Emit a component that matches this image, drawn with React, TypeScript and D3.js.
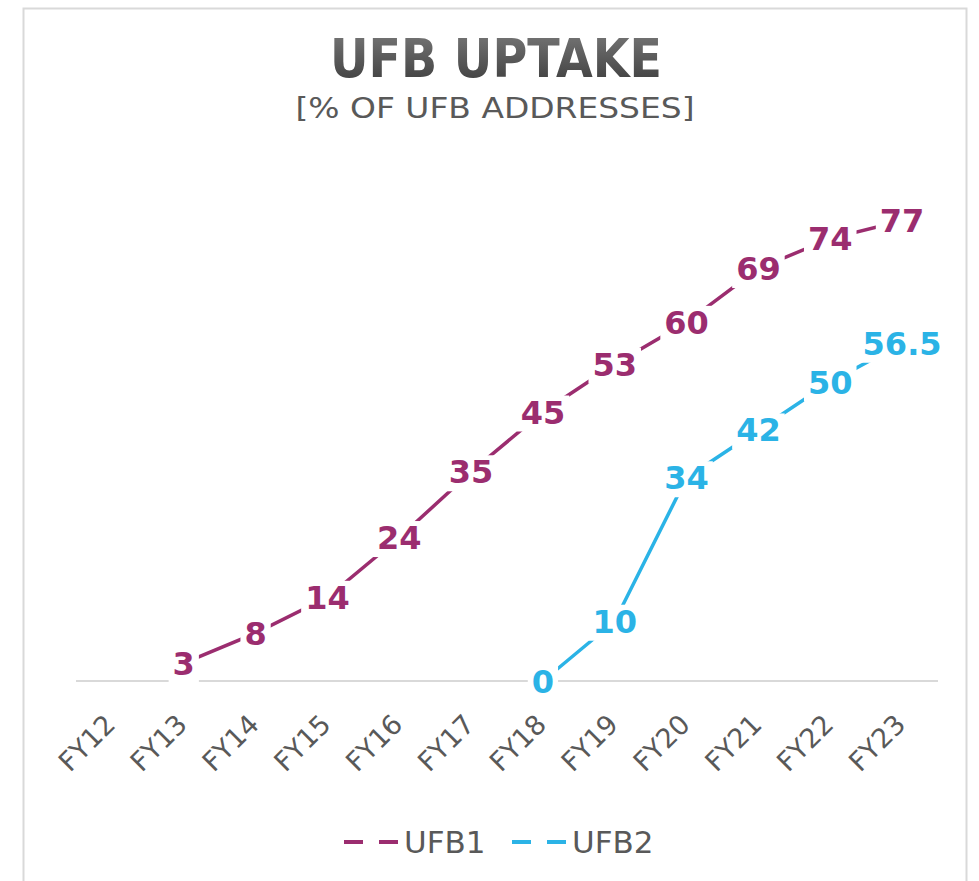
import React, { useEffect, useRef } from 'react';
import * as d3 from 'd3';

const categories = ['FY12', 'FY13', 'FY14', 'FY15', 'FY16', 'FY17', 'FY18', 'FY19', 'FY20', 'FY21', 'FY22', 'FY23'];
// null = no value for that year
const ufb1 = [null, 3, 8, 14, 24, 35, 45, 53, 60, 69, 74, 77];
const ufb2 = [null, null, null, null, null, null, 0, 10, 34, 42, 50, 56.5];
const seriesNames = ['UFB1', 'UFB2'];
const seriesColors = ['#9b2d6f', '#2bb3e6'];

const W = 979;
const H = 881;

export default function App() {
  const ref = useRef<SVGSVGElement>(null);

  useEffect(() => {
    const svg = d3.select(ref.current);
    svg.selectAll('*').remove();

    const x = d3.scaleBand().domain(categories).range([76, 938]);
    const y = d3.scaleLinear().domain([0, 90]).range([681, 143]);
    const cx = (c: string) => x(c)! + x.bandwidth() / 2;

    // frame
    svg.append('path')
      .attr('d', `M23.5,${H} V8.5 H966.5 V${H}`)
      .attr('fill', 'none')
      .attr('stroke', '#d9d9d9')
      .attr('stroke-width', 2);

    const defs = svg.append('defs');
    const grad = defs.append('linearGradient')
      .attr('id', 'titleGrad')
      .attr('x1', 0).attr('y1', 0).attr('x2', 0).attr('y2', 1);
    grad.append('stop').attr('offset', '0%').attr('stop-color', '#7a7a7a');
    grad.append('stop').attr('offset', '100%').attr('stop-color', '#3a3a3a');

    svg.append('text')
      .attr('x', 496).attr('y', 77)
      .attr('text-anchor', 'middle')
      .attr('font-family', 'DejaVu Sans')
      .attr('font-weight', 'bold')
      .attr('font-size', 53)
      .attr('textLength', 332)
      .attr('lengthAdjust', 'spacingAndGlyphs')
      .attr('fill', 'url(#titleGrad)')
      .text('UFB UPTAKE');

    svg.append('text')
      .attr('x', 495).attr('y', 118)
      .attr('text-anchor', 'middle')
      .attr('font-family', 'DejaVu Sans')
      .attr('font-size', 29)
      .attr('textLength', 399)
      .attr('lengthAdjust', 'spacingAndGlyphs')
      .attr('fill', '#595959')
      .text('[% OF UFB ADDRESSES]');

    // category axis
    svg.append('line')
      .attr('x1', 76).attr('x2', 938)
      .attr('y1', 681).attr('y2', 681)
      .attr('stroke', '#d9d9d9')
      .attr('stroke-width', 2);

    svg.append('g')
      .selectAll('text')
      .data(categories)
      .join('text')
      .attr('transform', (d) => `translate(${cx(d) + 5},726) rotate(-45)`)
      .attr('text-anchor', 'end')
      .attr('font-family', 'DejaVu Sans')
      .attr('font-size', 27)
      .attr('fill', '#595959')
      .text((d) => d);

    const seriesList = [ufb1, ufb2];
    const lineGen = d3.line<[string, number | null]>()
      .defined((d) => d[1] !== null)
      .x((d) => cx(d[0]))
      .y((d) => y(d[1] as number));

    seriesList.forEach((vals, i) => {
      const pts = categories.map((c, k) => [c, vals[k]] as [string, number | null]);
      svg.append('path')
        .datum(pts)
        .attr('d', lineGen)
        .attr('fill', 'none')
        .attr('stroke', seriesColors[i])
        .attr('stroke-width', 3.5);
    });

    seriesList.forEach((vals, i) => {
      const pts = categories
        .map((c, k) => [c, vals[k]] as [string, number | null])
        .filter((d) => d[1] !== null);
      const g = svg.append('g');
      pts.forEach(([c, v]) => {
        const lg = g.append('g');
        const bg = lg.append('rect').attr('fill', '#ffffff');
        const t = lg.append('text')
          .attr('x', cx(c))
          .attr('y', y(v as number) + 11.5)
          .attr('text-anchor', 'middle')
          .attr('font-family', 'DejaVu Sans')
          .attr('font-weight', 'bold')
          .attr('font-size', 32)
          .attr('fill', seriesColors[i])
          .text(String(v));
        const b = (t.node() as SVGTextElement).getBBox();
        bg.attr('x', b.x - 4).attr('y', b.y + 2)
          .attr('width', b.width + 8).attr('height', b.height - 2);
      });
    });

    // legend
    const legendX = [344, 512];
    seriesNames.forEach((name, i) => {
      const lx = legendX[i];
      svg.append('line')
        .attr('x1', lx).attr('x2', lx + 55)
        .attr('y1', 842).attr('y2', 842)
        .attr('stroke', seriesColors[i])
        .attr('stroke-width', 4)
        .attr('stroke-dasharray', '19 16');
      svg.append('text')
        .attr('x', lx + 60).attr('y', 853)
        .attr('font-family', 'DejaVu Sans')
        .attr('font-size', 31)
        .attr('fill', '#595959')
        .text(name);
    });
  }, []);

  return (
    <svg
      ref={ref}
      width={W}
      height={H}
      style={{ position: 'absolute', left: 0, top: 0, background: '#ffffff' }}
    />
  );
}
